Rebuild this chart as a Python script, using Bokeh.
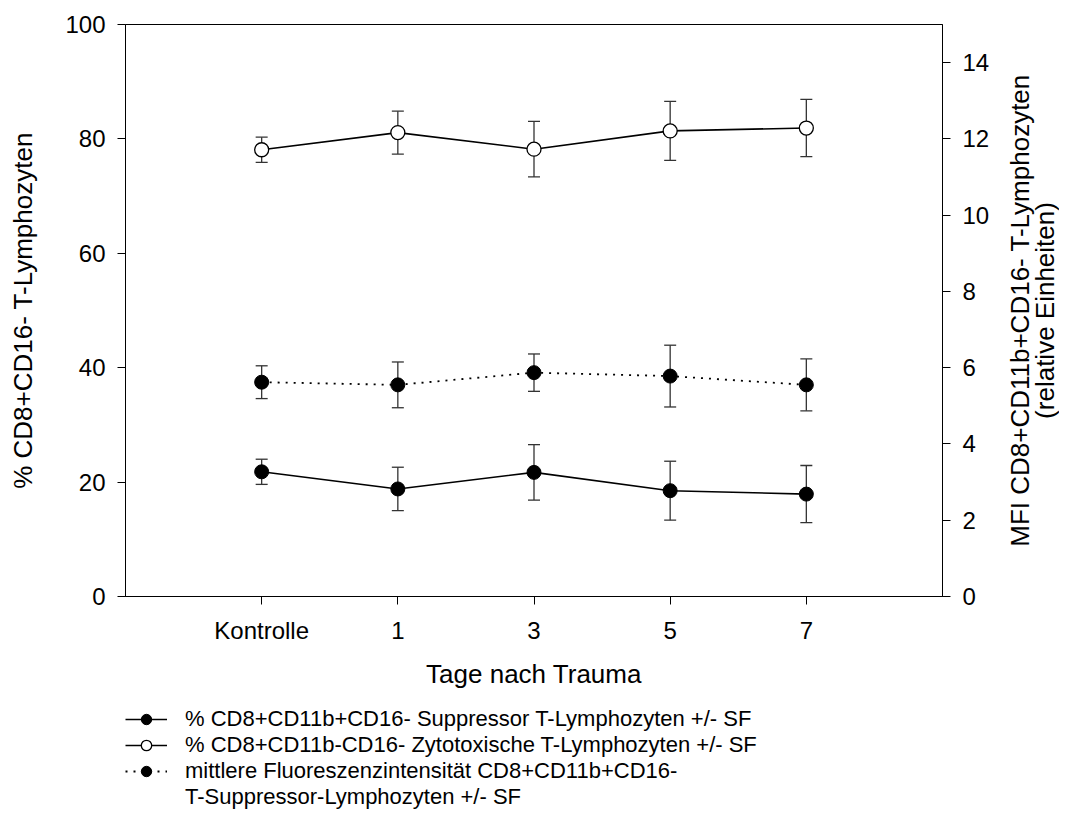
import math
from bokeh.plotting import figure
from bokeh.layouts import column, row
from bokeh.models import (Range1d, LinearAxis, FixedTicker, Whisker, ColumnDataSource,
                          Legend, LegendItem, TeeHead, Label)
from bokeh.embed import file_html
from bokeh.resources import INLINE

# ---- data ----
tage = ["Kontrolle", "1", "3", "5", "7"]
suppressor_pct = [21.8, 18.8, 21.7, 18.5, 17.9]
suppressor_se = [2.2, 3.8, 4.85, 5.15, 5.0]
zytotox_pct = [78.1, 81.1, 78.2, 81.4, 81.9]
zytotox_se = [2.2, 3.75, 4.85, 5.15, 5.0]
mfi = [5.62, 5.55, 5.87, 5.78, 5.55]
mfi_se = [0.43, 0.60, 0.49, 0.81, 0.68]
left_ticks = [0, 20, 40, 60, 80, 100]
right_ticks = [0, 2, 4, 6, 8, 10, 12, 14]
legend_labels = ["% CD8+CD11b+CD16- Suppressor T-Lymphozyten +/- SF",
                 "% CD8+CD11b-CD16- Zytotoxische T-Lymphozyten +/- SF",
                 "mittlere Fluoreszenzintensität CD8+CD11b+CD16-",
                 "T-Suppressor-Lymphozyten +/- SF"]
right_label_lines = ["MFI CD8+CD11b+CD16- T-Lymphozyten", "(relative Einheiten)"]

FONT = "Liberation Sans"
TICK_FS = "24px"
LABEL_FS = "26px"
LEG_FS = "22px"
W = 1059
RW = 64          # width of the strip holding the right-hand axis title
H = 700

x = list(range(1, len(tage) + 1))

p = figure(width=W - RW, height=H, x_range=Range1d(0, len(tage) + 1), y_range=Range1d(0, 100),
           output_backend="svg", toolbar_location=None,
           min_border_left=125, min_border_right=W - RW - 942, min_border_top=24,
           min_border_bottom=H - 596)
p.extra_y_ranges = {"mfi": Range1d(0, 15)}
p.xgrid.visible = False
p.ygrid.visible = False
p.outline_line_color = "black"
p.outline_line_width = 1
p.background_fill_color = "white"
p.border_fill_color = "white"


def style_axis(ax):
    ax.axis_line_color = "black"
    ax.major_tick_line_color = "black"
    ax.major_tick_in = 0
    ax.major_tick_out = 8
    ax.minor_tick_line_color = None
    ax.major_label_text_font = FONT
    ax.major_label_text_font_size = TICK_FS
    ax.major_label_text_color = "black"
    ax.major_label_standoff = 12
    ax.axis_label_text_font = FONT
    ax.axis_label_text_font_size = LABEL_FS
    ax.axis_label_text_font_style = "normal"
    ax.axis_label_text_color = "black"


xa = p.xaxis[0]
xa.ticker = FixedTicker(ticks=x)
xa.major_label_overrides = {xi: t for xi, t in zip(x, tage)}
xa.axis_label = "Tage nach Trauma"
style_axis(xa)
xa.axis_label_standoff = 12

ya = p.yaxis[0]
ya.ticker = FixedTicker(ticks=left_ticks)
ya.axis_label = "% CD8+CD16- T-Lymphozyten"
style_axis(ya)
ya.axis_label_standoff = 24

ra = LinearAxis(y_range_name="mfi", ticker=FixedTicker(ticks=right_ticks))
style_axis(ra)
p.add_layout(ra, "right")

ERR = "#333333"


def add_err(src, range_name="default"):
    w = Whisker(base="x", upper="hi", lower="lo", source=src, y_range_name=range_name,
                line_color=ERR, line_width=1.3,
                upper_head=TeeHead(size=12, line_color=ERR, line_width=1.3),
                lower_head=TeeHead(size=12, line_color=ERR, line_width=1.3))
    p.add_layout(w)


def make_src(vals, errs):
    return ColumnDataSource(dict(x=x, y=vals,
                                 lo=[v - e for v, e in zip(vals, errs)],
                                 hi=[v + e for v, e in zip(vals, errs)]))


s1 = make_src(suppressor_pct, suppressor_se)
s2 = make_src(zytotox_pct, zytotox_se)
s3 = make_src(mfi, mfi_se)
sources = [s1, s2, s3]

add_err(s1)
add_err(s2)
add_err(s3, "mfi")

LINE_KW = [dict(line_color="black", line_width=1.6),
           dict(line_color="black", line_width=1.6),
           dict(line_color="black", line_width=1.8, line_dash="2 6")]
MARK_KW = [dict(marker="circle", fill_color="black", line_color="black"),
           dict(marker="circle", fill_color="white", line_color="black", line_width=1.3),
           dict(marker="circle", fill_color="black", line_color="black")]

p.line("x", "y", source=s1, **LINE_KW[0])
p.scatter("x", "y", source=s1, size=14, **MARK_KW[0])
p.line("x", "y", source=s2, **LINE_KW[1])
p.scatter("x", "y", source=s2, size=14, **MARK_KW[1])
p.line("x", "y", source=s3, y_range_name="mfi", **LINE_KW[2])
p.scatter("x", "y", source=s3, y_range_name="mfi", size=14, **MARK_KW[2])

# ---- strip on the right with the right-hand axis title (reads bottom to top) ----
rf = figure(width=RW, height=H, x_range=Range1d(0, 1), y_range=p.y_range,
            output_backend="svg", toolbar_location=None, x_axis_type=None, y_axis_type=None,
            min_border_left=0, min_border_right=0, min_border_top=24, min_border_bottom=H - 596)
rf.xgrid.visible = False
rf.ygrid.visible = False
rf.outline_line_color = None
rf.background_fill_color = "white"
rf.border_fill_color = "white"
for xpos, txt in zip([0.38, 0.77], right_label_lines):
    rf.add_layout(Label(x=xpos, y=50, text=txt, angle=math.pi / 2,
                        text_align="center", text_baseline="middle",
                        text_font=FONT, text_font_size=LABEL_FS, text_color="black"))

# ---- legend strip below the chart ----
lf = figure(width=W, height=809 - H, x_range=Range1d(100, 101), y_range=Range1d(1000, 1001),
            output_backend="svg", toolbar_location=None, x_axis_type=None, y_axis_type=None,
            min_border_left=125, min_border_right=0, min_border_top=6, min_border_bottom=0)
lf.xgrid.visible = False
lf.ygrid.visible = False
lf.outline_line_color = None
lf.background_fill_color = "white"
lf.border_fill_color = "white"

items = []
for i in range(3):
    lr = lf.line("x", "y", source=sources[i], **LINE_KW[i])
    mr = lf.scatter("x", "y", source=sources[i], **MARK_KW[i])
    items.append(LegendItem(label=legend_labels[i], renderers=[lr, mr]))
blank = lf.scatter([], [], size=1, fill_alpha=0, line_alpha=0)
items.append(LegendItem(label=legend_labels[3], renderers=[blank]))

legend = Legend(items=items, location="top_left")
legend.label_text_font = FONT
legend.label_text_font_size = LEG_FS
legend.label_text_color = "black"
legend.glyph_width = 42
legend.glyph_height = 26
legend.label_height = 22
legend.spacing = 0
legend.padding = 6
legend.margin = 0
legend.label_standoff = 18
legend.border_line_color = None
legend.background_fill_alpha = 0
lf.add_layout(legend)

layout = column(row(p, rf, spacing=0), lf, spacing=0)
open("out.html", "w").write(file_html(layout, INLINE))
